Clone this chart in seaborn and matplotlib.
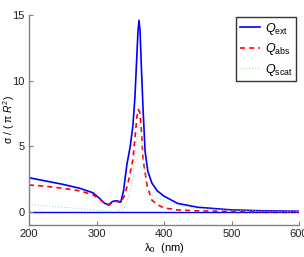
import matplotlib
matplotlib.use("Agg")
import matplotlib.pyplot as plt
import seaborn as sns

lam_ext = [200, 225, 250, 275, 295, 305, 312, 318, 324, 330, 336, 340, 345, 350, 354, 357, 359.5, 361.5, 363, 364.5, 366.5, 369, 372, 376, 382, 390, 400, 420, 450, 500, 550, 600]
q_ext = [2.6, 2.35, 2.1, 1.8, 1.45, 1.0, 0.65, 0.55, 0.8, 0.85, 0.75, 1.6, 3.6, 5.0, 6.6, 8.8, 11.6, 13.8, 14.6, 13.8, 11.0, 7.8, 4.6, 3.1, 2.2, 1.6, 1.2, 0.65, 0.35, 0.15, 0.08, 0.05]

lam_abs = [200, 225, 250, 275, 295, 305, 312, 318, 324, 330, 336, 342, 348, 354, 358, 360, 362, 364, 366, 369, 375, 382, 390, 400, 420, 450, 500, 550, 600]
q_abs = [2.05, 1.95, 1.8, 1.6, 1.3, 0.95, 0.65, 0.5, 0.75, 0.8, 0.7, 1.3, 2.5, 4.0, 6.2, 7.3, 7.8, 7.6, 6.6, 4.0, 2.0, 0.9, 0.55, 0.3, 0.15, 0.08, 0.03, 0.02, 0.01]

lam_sca = [200, 225, 250, 275, 295, 310, 320, 330, 340, 348, 354, 358, 361, 364, 367, 370, 375, 382, 390, 400, 420, 450, 500, 550, 600]
q_sca = [0.55, 0.45, 0.35, 0.25, 0.15, 0.08, 0.05, 0.06, 0.2, 1.2, 2.5, 4.8, 6.2, 6.8, 5.5, 3.8, 1.5, 1.3, 1.05, 0.9, 0.5, 0.27, 0.12, 0.06, 0.04]

plt.rcParams['font.family'] = ['Liberation Sans', 'DejaVu Sans']
plt.rcParams['mathtext.fontset'] = 'custom'
plt.rcParams['mathtext.rm'] = 'Liberation Sans'
plt.rcParams['mathtext.it'] = 'Liberation Sans:italic'

fig = plt.figure(figsize=(3.04, 2.57), dpi=100)
ax = fig.add_axes([29/304, 1-225/257, 270/304, 210/257])

sns.lineplot(x=lam_ext, y=q_ext, ax=ax, color='#0000ff', lw=1.2, label=r'$Q_{\rm ext}$')
sns.lineplot(x=lam_abs, y=q_abs, ax=ax, color='#ff0000', lw=1.2, ls=(0, (3, 2.5)), label=r'$Q_{\rm abs}$')
sns.lineplot(x=lam_sca, y=q_sca, ax=ax, color='#8fdf8f', lw=0.7, ls=(0, (1, 2)), label=r'$Q_{\rm scat}$')
ax.axhline(0, color='#0000ff', lw=1.0, zorder=1)

ax.set_xlim(200, 600)
ax.set_ylim(-1, 15)
ax.set_xticks([200, 300, 400, 500, 600])
ax.set_yticks([0, 5, 10, 15])
for s in ['top', 'right']:
    ax.spines[s].set_visible(False)
for s in ['left', 'bottom']:
    ax.spines[s].set_color('#808080')
    ax.spines[s].set_linewidth(1.0)
ax.tick_params(direction='in', length=3, width=0.8, color='#808080', labelsize=8, labelcolor='#222222', pad=3)
ax.set_xlabel('λ$_0$  (nm)', fontsize=8, labelpad=1)
ax.set_ylabel(r'σ / ( π $R^2$)', fontsize=7.5)
ax.yaxis.set_label_coords(-12/270, 0.5)

leg = ax.legend(loc='upper right', bbox_to_anchor=(296/304, 1-17/257), bbox_transform=fig.transFigure,
                fontsize=9, frameon=True, fancybox=False, handlelength=1.6, handletextpad=0.4,
                borderpad=0.3, labelspacing=0.35, borderaxespad=0.0)
leg.get_frame().set_edgecolor('#333333')
leg.get_frame().set_linewidth(1.0)
leg.get_frame().set_alpha(1.0)

fig.savefig('out.png', dpi=100)
